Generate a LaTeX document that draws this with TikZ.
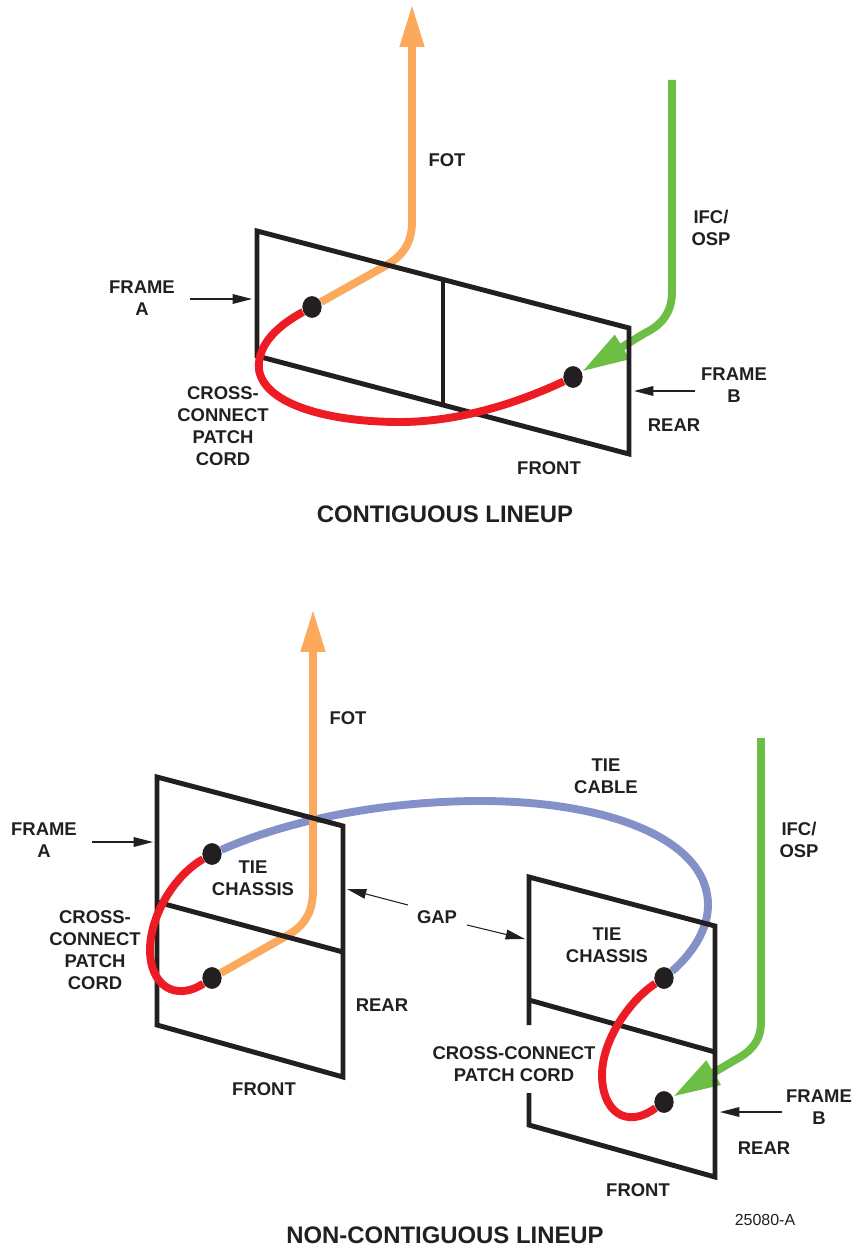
\documentclass[tikz,border=0pt]{standalone}
\usepackage{fontspec}
\usepackage{xcolor}
\setmainfont{Liberation Sans}
\usetikzlibrary{arrows.meta,backgrounds,shapes.geometric}
\definecolor{ink}{HTML}{231F20}
\definecolor{fotorange}{HTML}{FBA95C}
\definecolor{ifcgreen}{HTML}{6DBE45}
\definecolor{patchred}{HTML}{ED1C24}
\definecolor{tieblue}{HTML}{8391C8}
\tikzset{
	lbl/.style={text=ink,inner sep=0pt,align=center,font=\bfseries\fontsize{10.5}{12.5}\selectfont},
	heading/.style={text=ink,inner sep=0pt,font=\bfseries\fontsize{13.6}{16}\selectfont},
	port/.style={draw=none,fill=ink,ellipse,minimum width=11pt,minimum height=12.4pt,inner sep=0pt},
	framewire/.style={draw=ink,line width=2.8pt},
	cable/.style={line width=4.5pt},
	pointer/.style={draw=ink,line width=0.6pt,-{Triangle[length=11pt,width=5.5pt]}},
	bigtip/.style={-{Triangle[length=24.4pt,width=13pt]}},
	greentip/.style={-{Triangle[length=27pt,width=15pt]}}
}
\begin{document}
\begin{tikzpicture}[x=0.2mm,y=-0.2mm]
		\useasboundingbox (0,0) rectangle (852,1249);
		% contiguous lineup
		\node[port] (portAa) at (312,307) {};
		\node[port] (portAb) at (573,377) {};
		\draw[framewire] (257,231) -- (629,328) -- (629,454) -- (257,356) -- cycle;
		\draw[framewire] (443,280) -- (443,404);
		\draw[cable,patchred] (portAa) .. controls (270,330) and (257,350) .. (259,370)
			.. controls (265,405) and (330,422) .. (400,422)
			.. controls (460,422) and (520,402) .. (portAb);
		\coordinate (fotAtop) at (412,4);
		\coordinate (ifcAtop) at (672,80);
		\begin{scope}[on background layer]
			\draw[cable,fotorange,bigtip] (portAa) -- (387,265) .. controls (403,255) and (412,243) .. (412,222) -- (fotAtop);
			\draw[cable,ifcgreen,greentip] (ifcAtop) -- (672,292) .. controls (672,312) and (662,325) .. (645,333) -- (portAb);
		\end{scope}
		\node[lbl] (fotA) at (447,160) {FOT};
		\node[lbl] (ifcA) at (711,228) {IFC/\\OSP};
		\node[lbl] (frameAa) at (142,298) {FRAME\\A};
		\node[lbl] (frameAb) at (734,385) {FRAME\\B};
		\node[lbl] (patchA) at (223,426) {CROSS-\\CONNECT\\PATCH\\CORD};
		\node[lbl] (rearA) at (674,425) {REAR};
		\node[lbl] (frontA) at (549,468) {FRONT};
		\node[heading] (titleA) at (445,514) {CONTIGUOUS LINEUP};
		\coordinate (ptrAat) at (190,299);
		\coordinate (ptrAah) at (252,299);
		\coordinate (ptrAbt) at (695,391);
		\coordinate (ptrAbh) at (634,391);
		\draw[pointer] (ptrAat) -- (ptrAah);
		\draw[pointer] (ptrAbt) -- (ptrAbh);
		% non-contiguous lineup
		\node[port] (portBa) at (212,854) {};
		\node[port] (portBb) at (212,978) {};
		\node[port] (portCa) at (664,978) {};
		\node[port] (portCb) at (664,1102) {};
		\draw[framewire] (157,777) -- (343,826) -- (343,1077) -- (157,1025) -- cycle;
		\draw[framewire] (157,902) -- (343,952);
		\draw[framewire] (529,1025) -- (529,877) -- (715,926) -- (715,1177) -- (529,1125) -- (529,1093);
		\draw[framewire] (529,1000) -- (715,1052);
		\draw[cable,patchred] (portBa) .. controls (175,875) and (150,915) .. (150,950)
			.. controls (150,985) and (175,1002) .. (portBb);
		\draw[cable,patchred] (portCa) .. controls (630,1000) and (602,1040) .. (602,1075)
			.. controls (602,1110) and (625,1130) .. (portCb);
		\coordinate (fotBtop) at (313,609);
		\coordinate (ifcBtop) at (761,738);
		\begin{scope}[on background layer]
			\draw[cable,tieblue] (portBa) .. controls (300,815) and (400,801) .. (480,801)
				.. controls (610,801) and (708,840) .. (708,905)
				.. controls (708,935) and (685,960) .. (portCa);
			\draw[cable,fotorange,bigtip] (portBb) -- (288,935) .. controls (305,925) and (313,912) .. (313,890) -- (fotBtop);
			\draw[cable,ifcgreen,greentip] (ifcBtop) -- (761,1022) .. controls (761,1042) and (750,1052) .. (735,1060) -- (portCb);
		\end{scope}
		\node[lbl] (fotB) at (348,718) {FOT};
		\node[lbl] (tieCable) at (606,776) {TIE\\CABLE};
		\node[lbl] (ifcB) at (799,840) {IFC/\\OSP};
		\node[lbl] (frameBa) at (44,840) {FRAME\\A};
		\node[lbl] (tieBa) at (253,878) {TIE\\CHASSIS};
		\node[lbl] (gap) at (437,917) {GAP};
		\node[lbl] (tieCa) at (607,945) {TIE\\CHASSIS};
		\node[lbl] (patchB) at (95,950) {CROSS-\\CONNECT\\PATCH\\CORD};
		\node[lbl] (patchC) at (514,1064) {CROSS-CONNECT\\PATCH CORD};
		\node[lbl] (rearB) at (382,1005) {REAR};
		\node[lbl] (frontB) at (264,1089) {FRONT};
		\node[lbl] (frameBb) at (819,1107) {FRAME\\B};
		\node[lbl] (rearC) at (764,1148) {REAR};
		\node[lbl] (frontC) at (638,1190) {FRONT};
		\node[text=ink,inner sep=0pt,font=\fontsize{9.1}{11}\selectfont] (figno) at (765,1220) {25080-A};
		\node[heading] (titleB) at (445,1235) {NON-CONTIGUOUS LINEUP};
		\coordinate (ptrBat) at (92,842);
		\coordinate (ptrBah) at (153,842);
		\coordinate (ptrGat) at (408,905);
		\coordinate (ptrGah) at (347,889);
		\coordinate (ptrGbt) at (467,925);
		\coordinate (ptrGbh) at (525,939);
		\coordinate (ptrBbt) at (782,1112);
		\coordinate (ptrBbh) at (720,1112);
		\draw[pointer] (ptrBat) -- (ptrBah);
		\draw[pointer] (ptrGat) -- (ptrGah);
		\draw[pointer] (ptrGbt) -- (ptrGbh);
		\draw[pointer] (ptrBbt) -- (ptrBbh);
	\end{tikzpicture}
\end{document}
